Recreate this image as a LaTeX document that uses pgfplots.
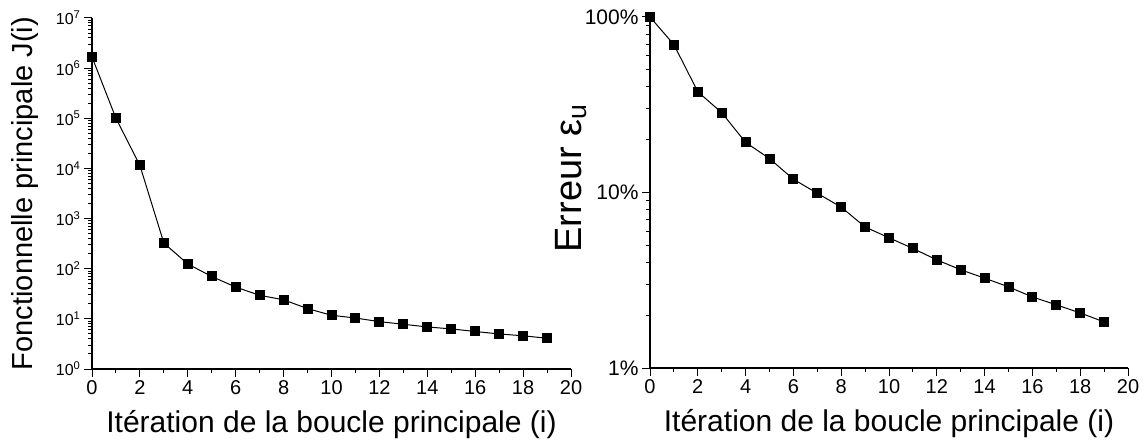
\documentclass[border=0pt]{standalone}
\usepackage{fontspec}
\setmainfont{Liberation Sans}
\usepackage{pgfplots}
\pgfplotsset{compat=1.18}

\pgfplotstableread{
i J
0 1670000
1 100000
2 11500
3 325
4 124
5 70
6 43
7 29.5
8 24
9 16
10 11.8
11 10.4
12 8.8
13 7.8
14 6.9
15 6.3
16 5.6
17 5.0
18 4.6
19 4.1
}\tableJ

\pgfplotstableread{
i E
0 100
1 69.6
2 37.5
3 28.5
4 19.3
5 15.6
6 11.9
7 9.9
8 8.25
9 6.36
10 5.52
11 4.80
12 4.13
13 3.63
14 3.25
15 2.90
16 2.54
17 2.29
18 2.06
19 1.83
}\tableE

\begin{document}
\begin{tikzpicture}
\useasboundingbox (0,0) rectangle (1145pt,442pt);
\pgfplotsset{
 common/.style={
  scale only axis,
  clip=false,
  axis x line*=bottom, axis y line*=left,
  tick align=outside,
  xmin=0, xmax=20, xtick={0,2,...,20}, minor x tick num=1,
  major tick length=8pt, minor tick length=4pt,
  tick style={black, line width=1pt},
  axis line style={line width=1.2pt},
  /pgf/number format/assume math mode=true,
  xticklabel style={font=\fontsize{20}{20}\selectfont},
  xlabel={Itération de la boucle principale (i)},
  xlabel style={font=\fontsize{30}{30}\selectfont, at={(axis description cs:0.5,-0.158)}, anchor=center},
 },
 ser/.style={black, line width=1pt, mark=square*, mark size=4.5pt, mark options={solid}},
}
\begin{axis}[common, at={(92pt,73pt)}, anchor=south west,
  width=479pt, height=351pt,
  ymode=log, ymin=1, ymax=1e7,
  ytick={1,10,100,1000,10000,100000,1000000,10000000},
  minor ytick={2,3,4,5,6,7,8,9,
    20,30,40,50,60,70,80,90,
    200,300,400,500,600,700,800,900,
    2000,3000,4000,5000,6000,7000,8000,9000,
    20000,30000,40000,50000,60000,70000,80000,90000,
    200000,300000,400000,500000,600000,700000,800000,900000,
    2000000,3000000,4000000,5000000,6000000,7000000,8000000,9000000},
  yticklabels={10\textsuperscript{0},10\textsuperscript{1},10\textsuperscript{2},10\textsuperscript{3},10\textsuperscript{4},10\textsuperscript{5},10\textsuperscript{6},10\textsuperscript{7}},
  yticklabel style={font=\fontsize{16}{16}\selectfont},
  ylabel={Fonctionnelle principale J(i)},
  ylabel style={font=\fontsize{29}{29}\selectfont, at={(axis description cs:-0.140,0.5)}, anchor=center},
]
\addplot[ser] table[x=i,y=J] {\tableJ};
\end{axis}
\begin{axis}[common, at={(650pt,74pt)}, anchor=south west,
  width=478pt, height=351pt,
  ymode=log, ymin=1, ymax=100,
  ytick={1,10,100},
  minor ytick={2,3,4,5,6,7,8,9,20,30,40,50,60,70,80,90},
  yticklabels={1\%,10\%,100\%},
  yticklabel style={font=\fontsize{21}{21}\selectfont},
  ylabel={Erreur ε\textsubscript{u}},
  ylabel style={font=\fontsize{38}{38}\selectfont, at={(axis description cs:-0.165,0.54)}, anchor=center},
]
\addplot[ser] table[x=i,y=E] {\tableE};
\end{axis}
\end{tikzpicture}
\end{document}
